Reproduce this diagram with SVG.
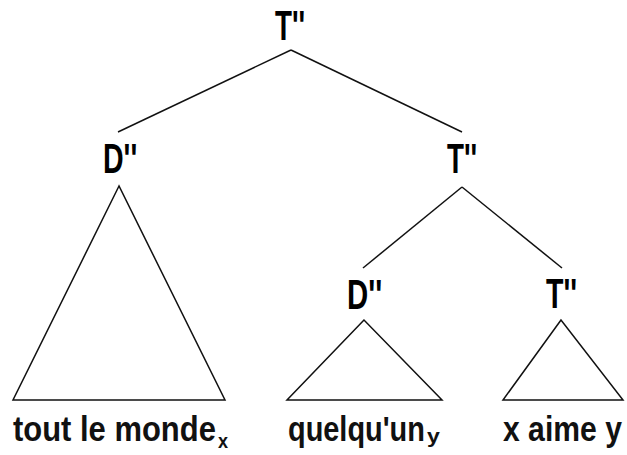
<svg xmlns="http://www.w3.org/2000/svg" width="627" height="455" viewBox="0 0 627 455">
<style>
.lbl{font-family:"Liberation Sans",Arial,sans-serif;font-weight:bold;font-size:42px;fill:#000}
.leaf{font-family:"Liberation Sans",Arial,sans-serif;font-weight:bold;font-size:36px;fill:#111}
.sub{font-family:"Liberation Sans",Arial,sans-serif;font-weight:bold;font-size:21px;fill:#111}
.edge{stroke:#111;stroke-width:1.5;fill:none}
.tri{stroke:#111;stroke-width:1.5;fill:none;stroke-linejoin:miter}
</style>
<rect width="627" height="455" fill="#fff"/>
<g id="connectors">
<line class="edge" x1="291" y1="50" x2="118" y2="132"/>
<line class="edge" x1="291" y1="50" x2="462" y2="132"/>
<line class="edge" x1="462" y1="187" x2="363" y2="268"/>
<line class="edge" x1="462" y1="187" x2="562" y2="268"/>
</g>
<g id="root"><text class="lbl" transform="translate(275,40) scale(0.66,1)">T''</text></g>
<g id="d1"><text class="lbl" transform="translate(103,173) scale(0.68,1)">D''</text></g>
<g id="t1"><text class="lbl" transform="translate(447,173) scale(0.66,1)">T''</text></g>
<g id="d2"><text class="lbl" transform="translate(347,309) scale(0.7,1)">D''</text></g>
<g id="t2"><text class="lbl" transform="translate(546,308) scale(0.68,1)">T''</text></g>
<g id="tri1"><polygon class="tri" points="119,186 13,400 225,400"/></g>
<g id="tri2"><polygon class="tri" points="364,320 287,400 442,400"/></g>
<g id="tri3"><polygon class="tri" points="561,320 503,400 623,400"/></g>
<g id="leaf1"><text class="leaf" transform="translate(13,441) scale(0.86,1)">tout le monde</text><text class="sub" transform="translate(218,448) scale(0.86,1)">x</text></g>
<g id="leaf2"><text class="leaf" transform="translate(288,441) scale(0.803,1)">quelqu'un</text><text class="sub" transform="translate(427,443) scale(1.1,1)">y</text></g>
<g id="leaf3"><text class="leaf" transform="translate(503,441) scale(0.837,1)">x aime y</text></g>
</svg>
